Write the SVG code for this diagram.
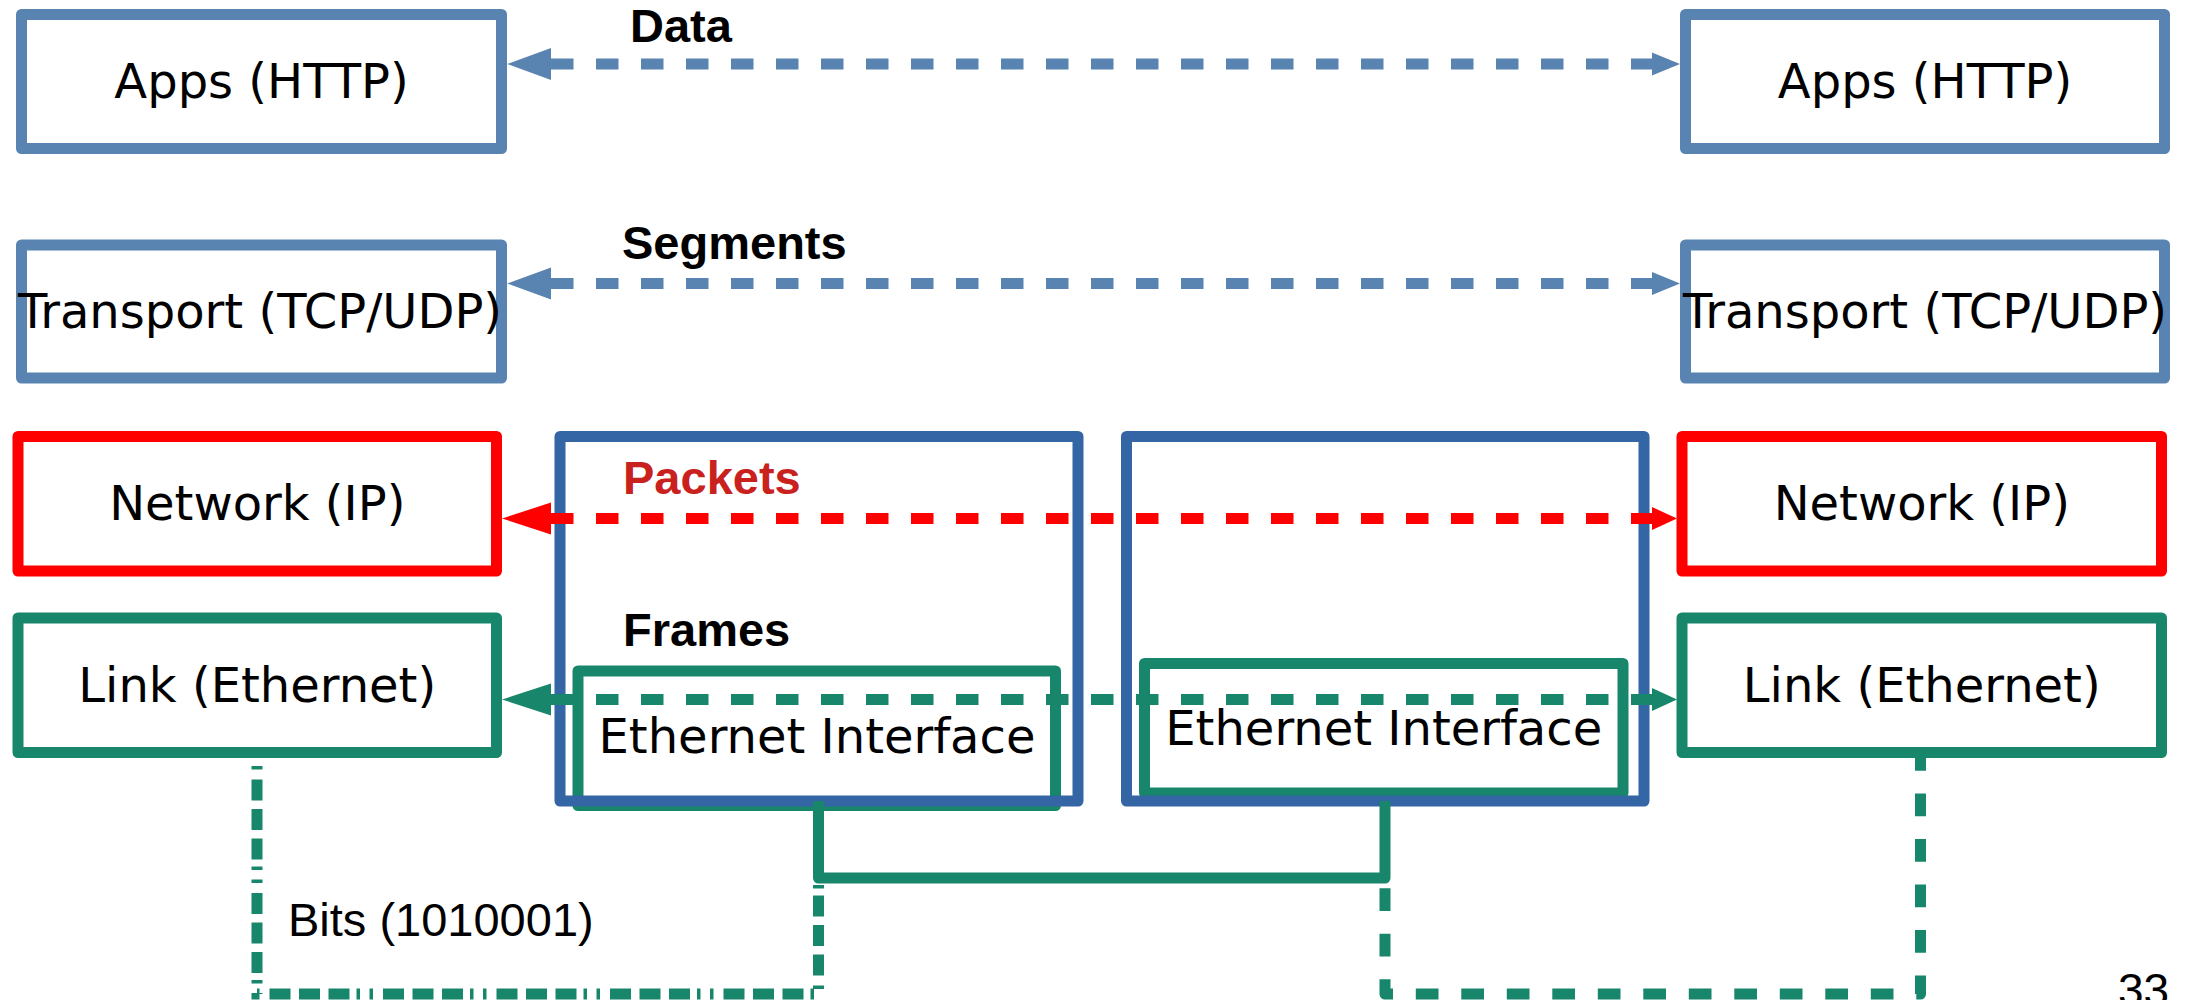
<svg xmlns="http://www.w3.org/2000/svg" width="2191" height="1000" viewBox="0 0 2191 1000">
<style>
.box{fill:#fff;stroke-width:11;stroke-linejoin:round}
.steel{stroke:#5983b0}
.red{stroke:#ff0000}
.green{stroke:#18866a}
.router{fill:none;stroke:#3465a4;stroke-width:11;stroke-linejoin:round}
.lbl{font-family:"DejaVu Sans",sans-serif;font-size:48px;fill:#000;text-anchor:middle}
.tag{font-family:"Liberation Sans",Arial,sans-serif;font-weight:bold;font-size:47px;fill:#000}
.plain{font-family:"Liberation Sans",Arial,sans-serif;font-size:47px;fill:#000}
.conn{fill:none;stroke-width:11}
.dash{stroke-dasharray:22.5 22.5}
</style>
<defs>
<marker id="sL" markerUnits="userSpaceOnUse" markerWidth="60" markerHeight="40" viewBox="0 -20 60 40" refX="0" refY="0" orient="auto-start-reverse"><path d="M0,-16 L44,0 L0,16 z" fill="#5983b0"/></marker>
<marker id="sR" markerUnits="userSpaceOnUse" markerWidth="60" markerHeight="40" viewBox="0 -20 60 40" refX="0" refY="0" orient="auto"><path d="M0,-11.5 L28,0 L0,11.5 z" fill="#5983b0"/></marker>
<marker id="rL" markerUnits="userSpaceOnUse" markerWidth="60" markerHeight="40" viewBox="0 -20 60 40" refX="0" refY="0" orient="auto-start-reverse"><path d="M0,-16 L49,0 L0,16 z" fill="#ff0000"/></marker>
<marker id="rR" markerUnits="userSpaceOnUse" markerWidth="60" markerHeight="40" viewBox="0 -20 60 40" refX="0" refY="0" orient="auto"><path d="M0,-11.5 L25,0 L0,11.5 z" fill="#ff0000"/></marker>
<marker id="gL" markerUnits="userSpaceOnUse" markerWidth="60" markerHeight="40" viewBox="0 -20 60 40" refX="0" refY="0" orient="auto-start-reverse"><path d="M0,-16 L49,0 L0,16 z" fill="#18866a"/></marker>
<marker id="gR" markerUnits="userSpaceOnUse" markerWidth="60" markerHeight="40" viewBox="0 -20 60 40" refX="0" refY="0" orient="auto"><path d="M0,-11.5 L25,0 L0,11.5 z" fill="#18866a"/></marker>
</defs>
<rect width="2191" height="1000" fill="#fff"/>

<g id="apps-left"><rect class="box steel" x="21.5" y="14.5" width="480" height="134"/><text class="lbl" x="261.5" y="98">Apps (HTTP)</text></g>
<g id="transport-left"><rect class="box steel" x="21.5" y="245" width="480" height="133"/><text class="lbl" x="260" y="328">Transport (TCP/UDP)</text></g>
<g id="network-left"><rect class="box red" x="18" y="436.5" width="478.5" height="134.5"/><text class="lbl" x="257.25" y="520">Network (IP)</text></g>
<g id="link-left"><rect class="box green" x="18" y="618" width="478.5" height="134.5"/><text class="lbl" x="257.25" y="701.5">Link (Ethernet)</text></g>

<g id="apps-right"><rect class="box steel" x="1685.5" y="14.5" width="479" height="134"/><text class="lbl" x="1925" y="98">Apps (HTTP)</text></g>
<g id="transport-right"><rect class="box steel" x="1685.5" y="245" width="479" height="133"/><text class="lbl" x="1925" y="328">Transport (TCP/UDP)</text></g>
<g id="network-right"><rect class="box red" x="1682" y="436.5" width="479.5" height="134.5"/><text class="lbl" x="1921.75" y="520">Network (IP)</text></g>
<g id="link-right"><rect class="box green" x="1682" y="618" width="479.5" height="134.5"/><text class="lbl" x="1921.75" y="701.5">Link (Ethernet)</text></g>

<g id="eth-if-1"><rect class="box green" x="578" y="671" width="477.5" height="134.5"/><text class="lbl" x="817" y="753">Ethernet Interface</text></g>
<g id="eth-if-2"><rect class="box green" x="1144.5" y="663.5" width="478.5" height="129.5"/><text class="lbl" x="1383.75" y="745">Ethernet Interface</text></g>

<g id="router-1"><rect class="router" x="560" y="436.5" width="518" height="364.5"/></g>
<g id="router-2"><rect class="router" x="1126.5" y="436.5" width="517.5" height="364.5"/></g>

<g id="connectors">
<line class="conn steel dash" x1="551" y1="64" x2="1652" y2="64" marker-start="url(#sL)" marker-end="url(#sR)"/>
<line class="conn steel dash" x1="551" y1="283.5" x2="1652" y2="283.5" marker-start="url(#sL)" marker-end="url(#sR)"/>
<line class="conn red dash" x1="551" y1="518.5" x2="1652" y2="518.5" marker-start="url(#rL)" marker-end="url(#rR)"/>
<line class="conn green dash" x1="551" y1="699.5" x2="1652" y2="699.5" marker-start="url(#gL)" marker-end="url(#gR)"/>
<path class="conn green" d="M818.5 801 V878 H1385 V801" stroke-linejoin="round"/>
<path class="conn green" d="M818.5 872 V994 H257 V760" stroke-dasharray="3.5 9.5 3.5 7 21 8.5 21 8.5 21 10"/>
<path class="conn green" d="M1920.5 748 V994 H1385 V884" stroke-dasharray="22.7 22.8" stroke-linejoin="round"/>
<text class="tag" x="630" y="42">Data</text>
<text class="tag" x="622" y="259">Segments</text>
<text class="tag" x="623" y="494" style="fill:#c9211e">Packets</text>
<text class="tag" x="623" y="646">Frames</text>
<text class="plain" x="288" y="936">Bits (1010001)</text>
</g>
<text class="plain" x="2118" y="1006" style="font-size:46px">33</text>
</svg>
